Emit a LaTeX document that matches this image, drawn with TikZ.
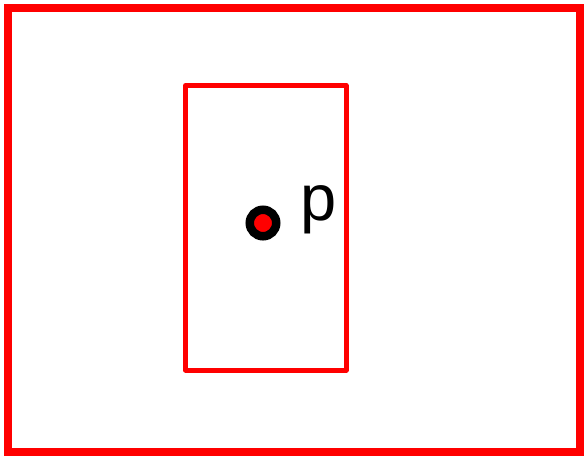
\documentclass[tikz,border=0pt]{standalone}
\usepackage{fontspec}
\setmainfont{Liberation Sans}
\begin{document}
\begin{tikzpicture}[
    x=0.02cm, y=-0.02cm,
    outerbox/.style={draw=red, line width=0.16cm},
    innerbox/.style={draw=red, line width=0.10cm, line join=round},
    punto/.style={circle, draw=black, fill=red, line width=0.17cm,
      inner sep=0pt, minimum size=0.53cm},
  ]

  \useasboundingbox (0,0) rectangle (585,458);

  % ---- the two frames ------------------------------------------------------
  \draw[outerbox] (8,8) rectangle (580,452);
  \draw[innerbox] (185.5,85.5) rectangle (346,370);

  % ---- the point and its label ---------------------------------------------
  \node[punto] (dot) at (263,223) {};
  \node[anchor=base west, inner sep=0pt,
    font=\fontsize{37}{44}\selectfont] (lbl) at (300,220) {p};

\end{tikzpicture}
\end{document}
